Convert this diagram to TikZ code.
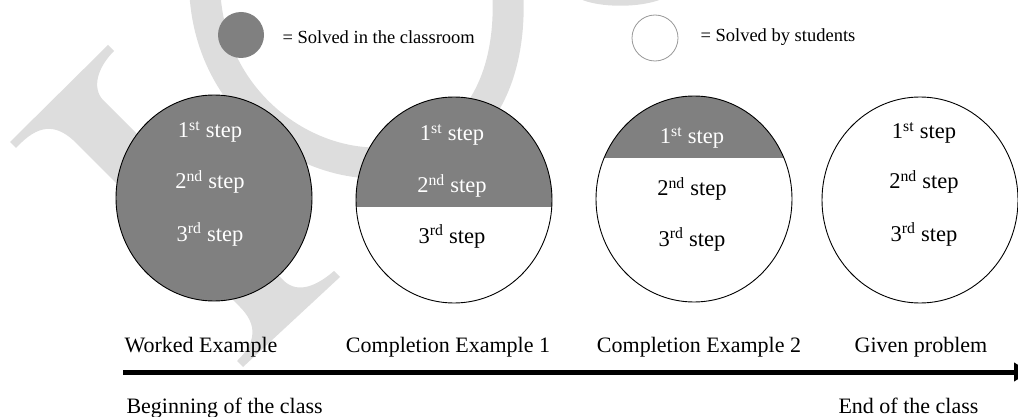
\documentclass[tikz,border=0pt]{standalone}
\usepackage{fontspec}
\setmainfont{Liberation Serif}
\usetikzlibrary{calc}
\usetikzlibrary{arrows.meta}

\definecolor{solvedgray}{HTML}{808080}
\definecolor{markgray}{HTML}{DDDDDD}
\definecolor{keyrim}{HTML}{999999}

\tikzset{
  bubble/.style={x radius=98pt, y radius=103pt},
  rim/.style={draw=black, line width=0.9pt},
  steptext/.style={anchor=base, font=\fontsize{22.5}{26}\selectfont},
  onfill/.style={steptext, text=white},
  labeltext/.style={anchor=base, font=\fontsize{22}{26}\selectfont},
  keytext/.style={anchor=base west, font=\fontsize{18.5}{22}\selectfont},
}

\begin{document}
\begin{tikzpicture}[x=1pt,y=-1pt]
\useasboundingbox (0,0) rectangle (1018,417);
\coordinate(W) at (214,198);
\coordinate(C1) at (454,200);
\coordinate(C2) at (694,199);
\coordinate(G) at (920,200);
\coordinate(start) at (123,372);
\coordinate(stop) at (1030,372);
\fill[markgray] (10,142) -- (108,45) -- (114,51) .. controls (97,68) and (92,88) .. (103,100) -- (283,280) .. controls (295,292) and (312,290) .. (334,271) -- (340,277) -- (243,367) -- (237,361) .. controls (256,343) and (258,325) .. (240,307) -- (73,140) .. controls (55,124) and (38,124) .. (16,148) -- cycle;
\draw[markgray, line width=31pt] (205,-5) .. controls (212,100) and (300,165) .. (380,163) .. controls (460,160) and (512,100) .. (508,-5);
\fill[markgray] (580,-1) .. controls (600,8) and (640,8) .. (662,-1) -- cycle;
\fill[solvedgray] (241,35) circle[radius=23pt];
\draw[keyrim, line width=0.8pt, fill=white] (655,38) circle[radius=23pt];
\node[keytext] (keysolved) at (279,44) {= Solved in the classroom};
\node[keytext] (keystudent) at (697,42) {= Solved by students};
\fill[solvedgray, bubble] (W) ellipse;
\draw[rim, bubble] (W) ellipse;
\fill[white, bubble] (C1) ellipse;
\begin{scope}
\clip[bubble] (C1) ellipse;
\fill[solvedgray] (340,80) rectangle (570,207);
\end{scope}
\draw[rim, bubble] (C1) ellipse;
\fill[white, bubble] (C2) ellipse;
\begin{scope}
\clip[bubble] (C2) ellipse;
\fill[solvedgray] (580,80) rectangle (810,158);
\end{scope}
\draw[rim, bubble] (C2) ellipse;
\draw[rim, bubble, fill=white] (G) ellipse;
\node[onfill] (w1) at (210,138) {1\textsuperscript{st} step};
\node[onfill] (w2) at (210,189) {2\textsuperscript{nd} step};
\node[onfill] (w3) at (210,241) {3\textsuperscript{rd} step};
\node[onfill] (a1) at (452,141) {1\textsuperscript{st} step};
\node[onfill] (a2) at (452,193) {2\textsuperscript{nd} step};
\node[steptext] (a3) at (452,243) {3\textsuperscript{rd} step};
\node[onfill] (b1) at (692,144) {1\textsuperscript{st} step};
\node[steptext] (b2) at (692,196) {2\textsuperscript{nd} step};
\node[steptext] (b3) at (692,246) {3\textsuperscript{rd} step};
\node[steptext] (g1) at (924,139) {1\textsuperscript{st} step};
\node[steptext] (g2) at (924,189) {2\textsuperscript{nd} step};
\node[steptext] (g3) at (924,241) {3\textsuperscript{rd} step};
\node[labeltext] (worked) at (201,352) {Worked Example};
\node[labeltext] (compone) at (448,352) {Completion Example 1};
\node[labeltext] (comptwo) at (699,352) {Completion Example 2};
\node[labeltext] (given) at (921,352) {Given problem};
\draw[line width=5pt, -{Triangle[width=18pt,length=16pt]}] (start) -- (stop);
\node[labeltext, anchor=base west] (begin) at (123,413) {Beginning of the class};
\node[labeltext, anchor=base west] (end) at (835,413) {End of the class};
\end{tikzpicture}
\end{document}
